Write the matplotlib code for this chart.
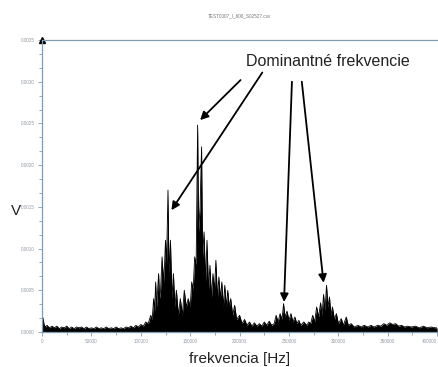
import numpy as np
import matplotlib.pyplot as plt
from matplotlib.ticker import AutoMinorLocator, FormatStrFormatter

# spectrum: frequency in kHz, amplitude in 1e-4 V
freq_khz = [0, 1, 2, 3.5, 5, 7.5, 10, 12.5, 15, 17.5, 20, 22.5, 25, 27.5, 30, 32.5,
            35, 37.5, 40, 42.5, 45, 47.5, 50, 52.5, 55, 57.5, 60, 62.5, 65, 67.5, 70,
            72.5, 75, 77.5, 80, 82.5, 85, 87.5, 90, 92.5, 95, 97.5, 100, 102.5, 105,
            107.5, 110, 111.5, 113, 114, 115, 116, 117, 118, 119, 120, 121.5, 123, 124,
            125, 126, 127.5, 128.5, 130, 131.5, 133, 134.5, 136, 138, 140, 142, 144, 146,
            148, 150, 151.5, 153, 154.5, 156, 157.5, 158.5, 160, 161.5, 162.5, 164,
            165.5, 167, 168.5, 170, 171.5, 173, 174.5, 176, 177.5, 179, 180.5, 182,
            183.5, 185, 186.5, 188, 189.5, 191, 193, 195, 197, 200, 202.5, 205, 207.5,
            210, 212.5, 215, 217.5, 220, 222.5, 225, 227.5, 230, 232.5, 235, 237, 239,
            241, 243, 244.5, 246, 248, 250, 252, 254, 256, 258, 260, 262, 265, 268, 270,
            272, 274, 276, 278, 280, 282, 283.5, 285, 286.5, 288, 289.5, 291, 292.5, 294,
            296, 298, 300, 303, 305, 308, 310, 313, 316, 320, 323, 326, 330, 333, 336,
            340, 343, 346, 349, 352, 355, 358, 361, 364, 367, 370, 374, 378, 382, 386,
            390, 394, 398, 400]
amp_e4 = [0.4, 1.7, 0.9, 0.6, 0.8, 0.5, 0.7, 0.5, 0.7, 0.4, 0.6, 0.5, 0.7, 0.4, 0.6, 0.4,
          0.6, 0.5, 0.6, 0.4, 0.6, 0.4, 0.5, 0.4, 0.6, 0.4, 0.5, 0.4, 0.6, 0.4, 0.5,
          0.4, 0.6, 0.4, 0.5, 0.4, 0.6, 0.5, 0.7, 0.5, 0.8, 0.6, 0.9, 0.7, 1.2,
          1.0, 2.0, 1.5, 4.0, 2.5, 6.0, 3.0, 5.0, 7.0, 4.0, 5.0, 9.0, 6.0, 8.0,
          11.0, 8.0, 17.0, 7.0, 11.0, 4.0, 7.0, 3.0, 5.0, 2.0, 4.0, 2.0, 5.0, 3.0,
          4.0, 3.0, 6.0, 5.0, 9.0, 8.0, 24.8, 12.0, 15.0, 22.2, 9.0, 12.0,
          6.0, 11.0, 5.0, 8.0, 4.0, 7.0, 5.0, 8.6, 4.0, 6.6, 4.0, 6.0,
          3.0, 5.6, 3.0, 5.0, 3.0, 4.0, 2.0, 3.2, 1.5, 2.0, 1.0, 1.5, 0.8,
          1.2, 0.7, 1.1, 0.7, 1.0, 0.7, 1.2, 0.8, 1.3, 0.8, 1.0, 2.0, 1.2,
          2.2, 1.5, 3.4, 1.8, 2.5, 1.4, 2.2, 1.2, 1.8, 1.0, 1.4, 0.8, 1.2, 0.8, 1.2,
          1.0, 2.0, 1.2, 3.0, 1.8, 3.5, 2.0, 4.5, 2.5, 5.6, 3.0, 4.2, 2.0, 3.0,
          1.5, 2.2, 1.0, 1.6, 0.8, 1.8, 0.8, 1.0, 0.6, 0.8, 0.6, 0.8, 0.6, 0.8, 0.6,
          0.8, 0.7, 1.0, 0.8, 1.1, 0.9, 1.0, 0.7, 0.8, 0.6, 0.7, 0.6, 0.7, 0.5, 0.7,
          0.5, 0.6, 0.5, 0.5]

freq = np.array(freq_khz) * 1000
amp = np.array(amp_e4) * 1e-4

y_ticks = [0.0, 0.0005, 0.0010, 0.0015, 0.0020, 0.0025, 0.0030, 0.0035]
x_ticks = [0, 50000, 100000, 150000, 200000, 250000, 300000, 350000, 400000]

# arrows: (tip, tail) in data units
arrows = [((131000, 0.00146), (223000, 0.00311)),
          ((160000, 0.00254), (201000, 0.00302)),
          ((245000, 0.00036), (253000, 0.00300)),
          ((285000, 0.00059), (263000, 0.00300))]

axis_col = "#7f9db6"
plt.rcParams["font.family"] = ["Liberation Sans", "DejaVu Sans"]

fig = plt.figure(figsize=(4.38, 3.67), dpi=100)
ax = fig.add_axes([0.096, 0.0954, 0.902, 0.7956])

ax.fill_between(freq, 0, amp, color="black", lw=0)
ax.plot(freq, amp, color="black", lw=0.6)

ax.set_xlim(0, 400000)
ax.set_ylim(0, 0.0035)
ax.set_xticks(x_ticks)
ax.set_yticks(y_ticks)
ax.yaxis.set_major_formatter(FormatStrFormatter("%.4f"))
ax.xaxis.set_minor_locator(AutoMinorLocator(2))
ax.yaxis.set_minor_locator(AutoMinorLocator(3))
ax.tick_params(which="both", colors=axis_col, labelcolor="#949ca4", labelsize=3.3, width=0.6)
ax.tick_params(which="major", length=3, pad=2)
ax.tick_params(which="minor", length=2)
ax.get_xticklabels()[-1].set_ha("right")

ax.spines["right"].set_visible(False)
for s in ["left", "bottom", "top"]:
    ax.spines[s].set_color(axis_col)
    ax.spines[s].set_linewidth(0.9)
ax.plot([0], [0.0035], marker="^", color="black", ms=4, clip_on=False,
        transform=ax.get_yaxis_transform())

ax.set_title("TEST0007_I_600_S02527.csv", fontsize=3.3, color="#777777", pad=16)
ax.set_xlabel("frekvencia [Hz]", fontsize=11, labelpad=6, color="#222222")
ax.set_ylabel("V", fontsize=11, rotation=0, color="#222222")
ax.yaxis.set_label_coords(-0.065, 0.39)

ax.text(289000, 0.00324, "Dominantné frekvencie", fontsize=11.5, ha="center",
        va="center", color="#222222")
for tip, tail in arrows:
    ax.annotate("", xy=tip, xytext=tail,
                arrowprops=dict(arrowstyle="-|>", color="black", lw=1.3,
                                mutation_scale=12, shrinkA=0, shrinkB=0))

fig.savefig("out.png", dpi=100)
